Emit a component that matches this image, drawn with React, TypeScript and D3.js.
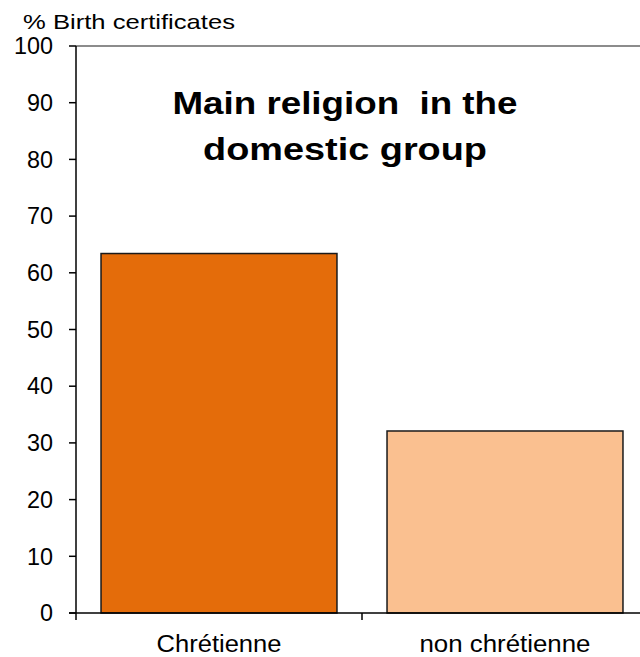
import * as d3 from 'd3';

const categories = ['Chrétienne', 'non chrétienne'];
const values = [63.4, 32.1];
const barColors = ['#E46C0A', '#FAC090'];
const yTicks = [0, 10, 20, 30, 40, 50, 60, 70, 80, 90, 100];
const yLabel = '% Birth certificates';
const titleLines = ['Main religion  in the', 'domestic group'];

const W = 640;
const H = 657;
const margin = { top: 46, left: 76, bottom: 44 };
const plotRight = 648; // plot area runs slightly past the right edge
const labelWidths = [125, 171];
const titleWidths = [345, 284];

export default function App() {
  const x = d3.scaleBand<string>().domain(categories).range([margin.left, plotRight]).padding(0);
  const y = d3.scaleLinear().domain([0, 100]).range([H - margin.bottom, margin.top]);
  const barW = x.bandwidth() * 0.825;
  const font = 'Arial, "Liberation Sans", sans-serif';

  return (
    <>
      <style>{`body{margin:0}`}</style>
      <svg width={W} height={H} style={{ display: 'block', fontFamily: font }}>
        {/* plot area top border */}
        <line x1={margin.left} x2={plotRight} y1={y(100)} y2={y(100)} stroke="#8c8c8c" strokeWidth={2} />

        {/* bars */}
        {categories.map((c, i) => (
          <rect
            key={c}
            x={x(c)! + (x.bandwidth() - barW) / 2}
            y={y(values[i])}
            width={barW}
            height={y(0) - y(values[i])}
            fill={barColors[i]}
            stroke="#1a1a1a"
            strokeWidth={1.5}
          />
        ))}

        {/* y axis */}
        <line x1={margin.left} x2={margin.left} y1={y(100)} y2={y(0)} stroke="#000" strokeWidth={1.5} />
        {yTicks.map(t => (
          <g key={t}>
            <line x1={margin.left - 7} x2={margin.left} y1={y(t)} y2={y(t)} stroke="#000" strokeWidth={1.5} />
            <text
              x={margin.left - 23}
              y={y(t)}
              dy="0.36em"
              textAnchor="end"
              fontSize={23}
              textLength={t === 100 ? 39 : t === 0 ? 13 : 26}
              lengthAdjust="spacingAndGlyphs"
              fill="#000"
            >
              {t}
            </text>
          </g>
        ))}

        {/* x axis */}
        <line x1={margin.left - 7} x2={plotRight} y1={y(0)} y2={y(0)} stroke="#000" strokeWidth={1.5} />
        {[...categories.map(c => x(c)!), plotRight].map((px, i) => (
          <line key={i} x1={px} x2={px} y1={y(0)} y2={y(0) + 7} stroke="#000" strokeWidth={1.5} />
        ))}
        {categories.map((c, i) => (
          <text
            key={c}
            x={x(c)! + x.bandwidth() / 2}
            y={652}
            textAnchor="middle"
            fontSize={23}
            textLength={labelWidths[i]}
            lengthAdjust="spacingAndGlyphs"
            fill="#000"
          >
            {c}
          </text>
        ))}

        {/* axis title */}
        <text x={23} y={29} fontSize={21} textLength={212} lengthAdjust="spacingAndGlyphs" fill="#000">
          {yLabel}
        </text>

        {/* chart title */}
        {titleLines.map((l, i) => (
          <text
            key={l}
            x={345}
            y={114 + i * 46}
            textAnchor="middle"
            fontSize={31}
            fontWeight="bold"
            textLength={titleWidths[i]}
            lengthAdjust="spacingAndGlyphs"
            fill="#000"
            style={{ whiteSpace: 'pre' }}
          >
            {l}
          </text>
        ))}
      </svg>
    </>
  );
}
